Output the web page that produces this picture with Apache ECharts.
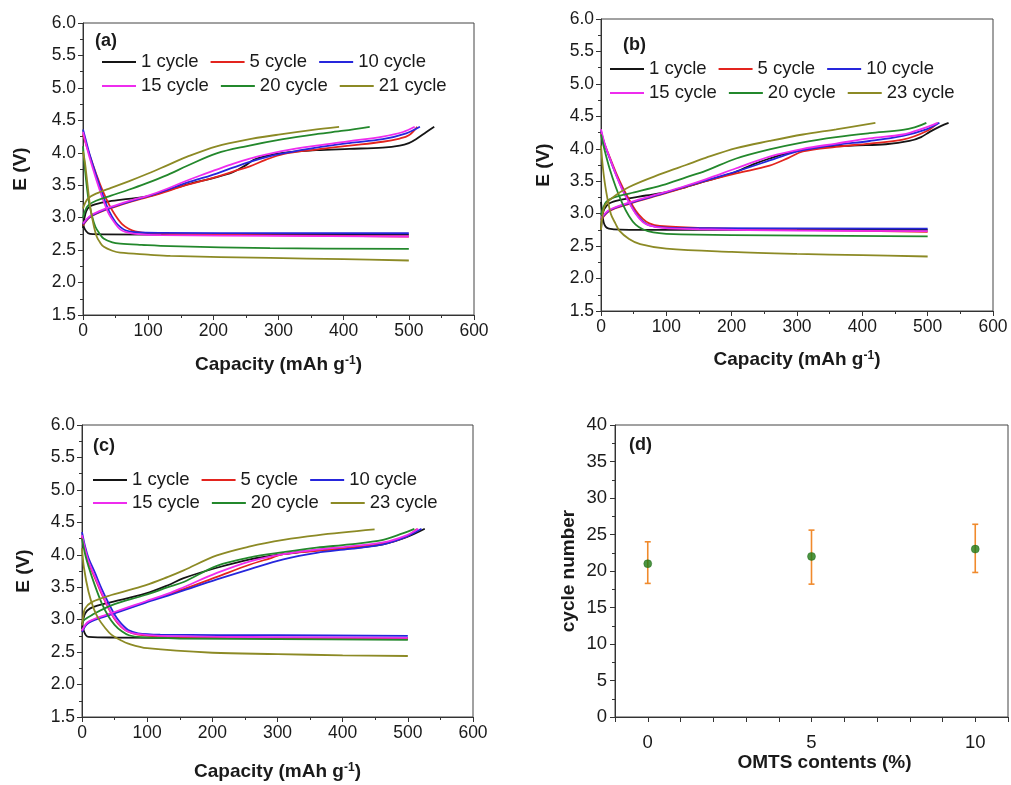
<!DOCTYPE html>
<html>
<head>
<meta charset="utf-8">
<script src="https://cdn.jsdelivr.net/npm/echarts@6/dist/echarts.min.js"></script>
<style>
  html, body { margin: 0; padding: 0; background: #ffffff; }
  #chart { width: 1011px; height: 785px; }
</style>
</head>
<body>
<div id="chart"></div>
<script>
// ---- Charge / discharge curves, [capacity (mAh/g), E (V)] ----

// Panel (a)
const aCycles = ['1 cycle', '5 cycle', '10 cycle', '15 cycle', '20 cycle', '21 cycle'];
const aChg1  = [[0,2.84],[2,2.98],[5,3.1],[10,3.17],[20,3.21],[40,3.25],[70,3.29],[100,3.33],[130,3.42],[170,3.54],[200,3.61],[230,3.7],[250,3.81],[262,3.89],[280,3.95],[307,4.0],[358,4.04],[409,4.06],[460,4.08],[486,4.11],[500,4.15],[511,4.21],[527,4.32],[539,4.40]];
const aChg5  = [[0,2.88],[10,3.0],[25,3.08],[50,3.17],[75,3.25],[100,3.32],[130,3.41],[154,3.49],[180,3.56],[205,3.63],[230,3.71],[256,3.79],[280,3.89],[307,3.98],[358,4.05],[409,4.11],[460,4.17],[486,4.22],[500,4.27],[513,4.40]];
const aChg10 = [[0,2.9],[10,3.01],[25,3.09],[50,3.18],[75,3.26],[100,3.33],[130,3.43],[154,3.52],[180,3.6],[205,3.68],[230,3.77],[256,3.86],[280,3.93],[307,3.99],[358,4.08],[409,4.15],[460,4.21],[496,4.30],[517,4.40]];
const aChg15 = [[0,2.91],[10,3.02],[25,3.1],[50,3.19],[75,3.27],[100,3.34],[130,3.45],[154,3.55],[180,3.65],[205,3.74],[230,3.83],[256,3.91],[280,3.97],[307,4.03],[358,4.11],[409,4.18],[460,4.25],[491,4.32],[509,4.40]];
const aChg20 = [[0,3.0],[3,3.1],[8,3.19],[20,3.26],[43,3.34],[70,3.43],[95,3.52],[130,3.66],[160,3.8],[205,3.99],[250,4.1],[307,4.21],[360,4.29],[400,4.34],[440,4.40]];
const aChg21 = [[0,3.14],[3,3.22],[8,3.3],[20,3.37],[43,3.46],[70,3.56],[100,3.68],[130,3.81],[160,3.94],[205,4.1],[250,4.2],[300,4.28],[350,4.35],[393,4.40]];
const aDis1  = [[0,2.9],[3,2.82],[8,2.76],[15,2.745],[100,2.74],[300,2.74],[500,2.74]];
const aDis5  = [[0,4.28],[5,4.12],[10,3.97],[20,3.68],[30,3.42],[40,3.2],[50,3.03],[60,2.9],[70,2.83],[80,2.79],[100,2.76],[200,2.74],[500,2.71]];
const aDis10 = [[0,4.36],[5,4.17],[10,3.98],[20,3.66],[30,3.36],[40,3.1],[50,2.93],[58,2.85],[66,2.8],[80,2.775],[120,2.765],[300,2.76],[500,2.76]];
const aDis15 = [[0,4.32],[5,4.12],[10,3.93],[20,3.6],[30,3.3],[40,3.05],[50,2.9],[57,2.82],[65,2.78],[80,2.75],[120,2.73],[300,2.72],[500,2.71]];
const aDis20 = [[0,4.1],[4,3.65],[8.6,3.27],[14,3.02],[19,2.86],[25,2.76],[31.6,2.68],[45,2.62],[57,2.6],[90,2.58],[134,2.56],[287,2.53],[500,2.52]];
const aDis21 = [[0,4.02],[3,3.85],[7,3.5],[11,3.17],[16,2.9],[21,2.71],[26,2.62],[32,2.55],[45,2.49],[57,2.46],[100,2.43],[134,2.41],[287,2.38],[400,2.36],[500,2.34]];

// Panel (b)
const bCycles = ['1 cycle', '5 cycle', '10 cycle', '15 cycle', '20 cycle', '23 cycle'];
const bChg1  = [[0,2.75],[2,2.95],[5,3.07],[13,3.16],[28,3.21],[69,3.28],[100,3.33],[130,3.41],[160,3.5],[200,3.62],[233,3.76],[258,3.85],[284,3.93],[334,4.02],[385,4.05],[436,4.07],[472,4.12],[490,4.18],[503,4.26],[520,4.35],[532,4.40]];
const bChg5  = [[0,2.9],[13,3.04],[43,3.15],[94,3.3],[130,3.41],[160,3.5],[207,3.62],[258,3.74],[287,3.86],[309,3.96],[360,4.03],[411,4.08],[462,4.14],[498,4.27],[516,4.40]];
const bChg10 = [[0,2.92],[13,3.05],[43,3.16],[94,3.31],[130,3.42],[160,3.51],[207,3.65],[258,3.82],[290,3.93],[309,3.98],[360,4.06],[411,4.12],[462,4.2],[498,4.30],[518,4.40]];
const bChg15 = [[0,2.93],[13,3.06],[43,3.17],[94,3.32],[130,3.43],[160,3.53],[207,3.7],[258,3.88],[309,4.0],[360,4.08],[411,4.16],[462,4.22],[492,4.31],[515,4.40]];
const bChg20 = [[0,2.98],[3,3.08],[8,3.18],[20,3.25],[43,3.31],[94,3.44],[130,3.56],[160,3.66],[207,3.85],[258,3.99],[309,4.1],[360,4.18],[411,4.24],[462,4.29],[480,4.33],[498,4.40]];
const bChg23 = [[0,2.75],[2,2.95],[5,3.1],[13,3.21],[43,3.41],[94,3.62],[130,3.75],[160,3.86],[207,4.01],[258,4.12],[309,4.22],[360,4.3],[420,4.40]];
const bDis1  = [[0,3.18],[2,3.0],[4,2.87],[7,2.8],[12,2.77],[30,2.755],[100,2.75],[500,2.75]];
const bDis5  = [[0,4.25],[5,4.08],[13,3.88],[23,3.63],[33,3.41],[43,3.22],[53,3.05],[64,2.92],[74,2.85],[90,2.81],[150,2.78],[300,2.75],[500,2.72]];
const bDis10 = [[0,4.28],[5,4.09],[13,3.86],[23,3.6],[33,3.37],[43,3.18],[53,3.01],[64,2.88],[74,2.82],[94,2.79],[150,2.775],[500,2.77]];
const bDis15 = [[0,4.3],[5,4.1],[13,3.87],[23,3.6],[33,3.36],[43,3.17],[53,3.0],[64,2.87],[74,2.82],[94,2.78],[150,2.76],[300,2.74],[500,2.73]];
const bDis20 = [[0,4.22],[5,4.0],[13,3.7],[23,3.4],[33,3.15],[43,2.96],[53,2.83],[64,2.76],[80,2.71],[100,2.69],[200,2.67],[500,2.65]];
const bDis23 = [[0,4.05],[3,3.7],[7.6,3.36],[15,3.0],[22,2.85],[28,2.74],[43,2.61],[60,2.53],[100,2.46],[200,2.41],[300,2.38],[400,2.36],[500,2.34]];

// Panel (c)
const cCycles = ['1 cycle', '5 cycle', '10 cycle', '15 cycle', '20 cycle', '23 cycle'];
const cChg1  = [[0,2.86],[2,3.0],[5,3.1],[12,3.17],[25,3.22],[45,3.27],[97,3.4],[132,3.53],[156,3.64],[207,3.8],[258,3.93],[309,4.01],[360,4.07],[411,4.1],[462,4.16],[498,4.27],[526,4.40]];
const cChg5  = [[0,2.82],[10,2.96],[45,3.09],[97,3.27],[132,3.39],[156,3.47],[207,3.66],[258,3.85],[290,3.95],[309,4.01],[360,4.06],[411,4.11],[462,4.17],[498,4.28],[514,4.40]];
const cChg10 = [[0,2.81],[10,2.95],[45,3.08],[97,3.26],[132,3.37],[156,3.45],[207,3.62],[258,3.78],[309,3.93],[360,4.03],[411,4.09],[462,4.16],[498,4.28],[521,4.40]];
const cChg15 = [[0,2.83],[10,2.97],[45,3.1],[97,3.28],[132,3.4],[156,3.5],[207,3.72],[258,3.9],[309,4.01],[360,4.08],[411,4.13],[462,4.19],[498,4.3],[516,4.40]];
const cChg20 = [[0,2.94],[4,3.0],[15,3.07],[45,3.22],[97,3.38],[132,3.5],[156,3.58],[207,3.83],[258,3.96],[309,4.04],[360,4.11],[411,4.16],[462,4.23],[492,4.33],[510,4.40]];
const cChg23 = [[0,2.91],[2,3.05],[4.6,3.17],[15,3.27],[45,3.38],[97,3.53],[132,3.66],[156,3.76],[207,3.99],[258,4.13],[309,4.23],[360,4.3],[449,4.39]];
const cDis1  = [[0,2.95],[3,2.82],[6,2.76],[10,2.735],[50,2.725],[200,2.72],[500,2.72]];
const cDis5  = [[0,4.28],[5,4.06],[10,3.88],[20,3.64],[30,3.4],[40,3.19],[50,3.01],[60,2.89],[70,2.82],[86,2.77],[120,2.74],[300,2.72],[500,2.70]];
const cDis10 = [[0,4.35],[5,4.12],[10,3.95],[20,3.72],[30,3.48],[40,3.27],[50,3.08],[56,2.99],[64,2.9],[71,2.84],[86,2.79],[120,2.77],[300,2.76],[500,2.75]];
const cDis15 = [[0,4.3],[5,4.08],[10,3.9],[20,3.66],[30,3.42],[40,3.2],[50,3.02],[60,2.9],[68,2.83],[84,2.78],[120,2.75],[300,2.73],[500,2.72]];
const cDis20 = [[0,4.25],[5,4.0],[10,3.82],[20,3.52],[30,3.26],[40,3.06],[50,2.92],[61,2.82],[72,2.76],[90,2.73],[150,2.71],[300,2.70],[500,2.69]];
const cDis23 = [[0,4.1],[3,3.8],[10,3.43],[18,3.17],[25,3.02],[35,2.88],[45,2.77],[60,2.68],[71,2.63],[100,2.56],[200,2.49],[300,2.47],[400,2.45],[500,2.44]];

// Panel (d): cycle number vs. OMTS content, with error ranges
const dContent = [0, 5, 10];
const dCycle   = [21, 22, 23];
const dLow     = [18.3, 18.2, 19.8];
const dHigh    = [24.0, 25.6, 26.4];
const dLabels  = [0, 5, 10];

// ---- Chart ----
const FONT = '"Liberation Sans", Arial, Helvetica, sans-serif';
const COLORS = ['#151515', '#e3241e', '#2626dc', '#ee2cee', '#23882c', '#8c8a25'];
const AXIS_COLOR = '#333333';
const TEXT_COLOR = '#1a1a1a';

const panels = [
  { grid: { left: 83, top: 23, width: 391, height: 292 }, tag: '(a)', tagPos: [95, 32],
    legendLeft: 102, legendTops: [52, 76], yGap: 53, xGap: 40,
    cycles: aCycles, charge: [aChg1, aChg5, aChg10, aChg15, aChg20, aChg21],
    discharge: [aDis1, aDis5, aDis10, aDis15, aDis20, aDis21] },
  { grid: { left: 601, top: 19, width: 392, height: 292 }, tag: '(b)', tagPos: [623, 36],
    legendLeft: 610, legendTops: [59, 83], yGap: 48, xGap: 39,
    cycles: bCycles, charge: [bChg1, bChg5, bChg10, bChg15, bChg20, bChg23],
    discharge: [bDis1, bDis5, bDis10, bDis15, bDis20, bDis23] },
  { grid: { left: 82, top: 425, width: 391, height: 292 }, tag: '(c)', tagPos: [93, 437],
    legendLeft: 93, legendTops: [470, 493], yGap: 49, xGap: 45,
    cycles: cCycles, charge: [cChg1, cChg5, cChg10, cChg15, cChg20, cChg23],
    discharge: [cDis1, cDis5, cDis10, cDis15, cDis20, cDis23] }
];

const grids = [], xAxes = [], yAxes = [], series = [], legends = [], titles = [];

const tickStyle = { length: 5, lineStyle: { color: AXIS_COLOR, width: 1 } };
const minorStyle = { show: true, splitNumber: 2, length: 3, lineStyle: { color: AXIS_COLOR, width: 1 } };
const labelStyle = { fontFamily: FONT, fontSize: 17.5, color: TEXT_COLOR };
const nameStyle = { fontFamily: FONT, fontSize: 19, fontWeight: 'bold', color: TEXT_COLOR };
const axisLine = { onZero: false, lineStyle: { color: AXIS_COLOR, width: 1 } };

panels.forEach((p, gi) => {
  grids.push(Object.assign({ show: true, borderColor: '#444', borderWidth: 1, containLabel: false }, p.grid));
  xAxes.push({
    type: 'value', gridIndex: gi, min: 0, max: 600, interval: 100,
    name: 'Capacity (mAh g{sup|-1})', nameLocation: 'middle', nameGap: p.xGap,
    nameTextStyle: Object.assign({}, nameStyle, {
      rich: { sup: { fontFamily: FONT, fontSize: 12, fontWeight: 'bold', color: TEXT_COLOR, verticalAlign: 'top' } }
    }),
    axisLine: axisLine,
    axisTick: tickStyle, minorTick: minorStyle,
    axisLabel: Object.assign({ margin: 7 }, labelStyle),
    splitLine: { show: false }
  });
  yAxes.push({
    type: 'value', gridIndex: gi, min: 1.5, max: 6, interval: 0.5,
    name: 'E (V)', nameLocation: 'middle', nameGap: p.yGap, nameTextStyle: nameStyle,
    axisLine: axisLine,
    axisTick: tickStyle, minorTick: minorStyle,
    axisLabel: Object.assign({ margin: 7, formatter: v => v.toFixed(1) }, labelStyle),
    splitLine: { show: false }
  });
  p.cycles.forEach((name, k) => {
    [p.charge[k], p.discharge[k]].forEach(curve => {
      series.push({
        type: 'line', name: name, xAxisIndex: gi, yAxisIndex: gi,
        data: curve, symbol: 'none', smooth: 0.35, color: COLORS[k],
        lineStyle: { width: 1.8, color: COLORS[k] }, z: 2 + k, animation: false
      });
    });
  });
  [p.cycles.slice(0, 3), p.cycles.slice(3)].forEach((row, r) => {
    legends.push({
      left: p.legendLeft, top: p.legendTops[r], orient: 'horizontal', padding: 0,
      icon: 'rect', itemWidth: 34, itemHeight: 2, itemGap: 12, selectedMode: false,
      data: row,
      textStyle: { fontFamily: FONT, fontSize: 18.5, color: TEXT_COLOR, lineHeight: 20 }
    });
  });
  titles.push({ text: p.tag, left: p.tagPos[0], top: p.tagPos[1], padding: 0,
    textStyle: { fontFamily: FONT, fontSize: 18, fontWeight: 'bold', color: TEXT_COLOR } });
});

// Panel (d)
grids.push({ show: true, borderColor: '#444', borderWidth: 1, left: 615, top: 425, width: 393, height: 292 });
xAxes.push({
  type: 'value', gridIndex: 3, min: -1, max: 11, interval: 1,
  name: 'OMTS contents (%)', nameLocation: 'middle', nameGap: 34,
  nameTextStyle: Object.assign({ padding: [0, 0, 0, 26] }, nameStyle),
  axisLine: axisLine,
  axisTick: tickStyle,
  axisLabel: Object.assign({}, labelStyle, { fontSize: 18.5, margin: 16,
    formatter: v => dLabels.includes(v) ? String(v) : '' }),
  splitLine: { show: false }
});
yAxes.push({
  type: 'value', gridIndex: 3, min: 0, max: 40, interval: 5,
  name: 'cycle number', nameLocation: 'middle', nameGap: 37, nameTextStyle: nameStyle,
  axisLine: axisLine,
  axisTick: tickStyle, minorTick: minorStyle,
  axisLabel: Object.assign({}, labelStyle, { fontSize: 18.5, margin: 8 }),
  splitLine: { show: false }
});
series.push({
  type: 'custom', name: 'range', xAxisIndex: 3, yAxisIndex: 3, z: 3, animation: false,
  data: dContent.map((x, i) => [x, dLow[i], dHigh[i]]),
  encode: { x: 0, y: [1, 2] },
  renderItem: (params, api) => {
    const x = api.value(0);
    const top = api.coord([x, api.value(2)]);
    const bot = api.coord([x, api.value(1)]);
    const w = 3;
    const style = { stroke: '#f08a2c', lineWidth: 1.6 };
    return {
      type: 'group',
      children: [
        { type: 'line', shape: { x1: top[0], y1: top[1], x2: bot[0], y2: bot[1] }, style },
        { type: 'line', shape: { x1: top[0] - w, y1: top[1], x2: top[0] + w, y2: top[1] }, style },
        { type: 'line', shape: { x1: bot[0] - w, y1: bot[1], x2: bot[0] + w, y2: bot[1] }, style }
      ]
    };
  }
});
series.push({
  type: 'scatter', name: 'cycle number', xAxisIndex: 3, yAxisIndex: 3, z: 5, animation: false,
  data: dContent.map((x, i) => [x, dCycle[i]]),
  symbol: 'circle', symbolSize: 8,
  itemStyle: { color: '#1f7a14', borderColor: '#176010', borderWidth: 0.5 }
});
titles.push({ text: '(d)', left: 629, top: 436, padding: 0,
  textStyle: { fontFamily: FONT, fontSize: 18, fontWeight: 'bold', color: TEXT_COLOR } });

const chart = echarts.init(document.getElementById('chart'), null, { renderer: 'canvas' });
chart.setOption({
  backgroundColor: '#ffffff',
  animation: false,
  title: titles,
  legend: legends,
  grid: grids,
  xAxis: xAxes,
  yAxis: yAxes,
  series: series
});
</script>
</body>
</html>
